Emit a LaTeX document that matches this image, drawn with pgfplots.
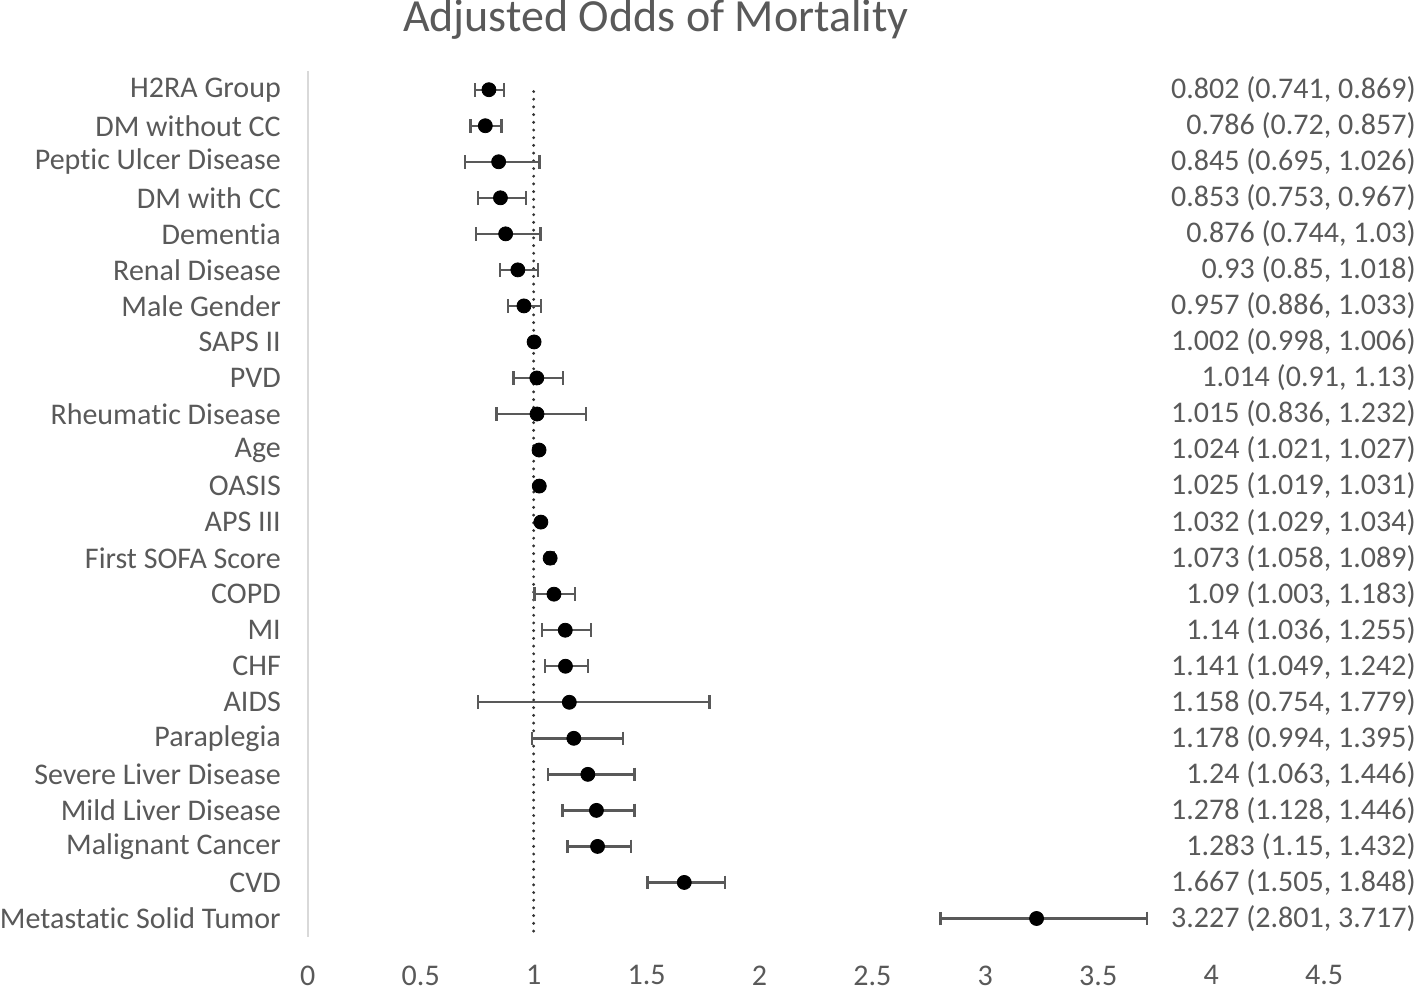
\documentclass[border=0pt]{standalone}
\usepackage{fontspec}
\setmainfont{Carlito}[Ligatures=NoCommon]
\usepackage{pgfplots}
\pgfplotsset{compat=1.18}
\usepackage{pgfplotstable}
\definecolor{txtgrey}{HTML}{595959}
\definecolor{axgrey}{HTML}{D9D9D9}
\definecolor{bargrey}{HTML}{595959}

% odds ratio with 95% CI, top to bottom
\pgfplotstableread[col sep=semicolon]{
label;or;lo;hi;ci
H2RA Group;0.802;0.741;0.869;0.802 (0.741, 0.869)
DM without CC;0.786;0.72;0.857;0.786 (0.72, 0.857)
Peptic Ulcer Disease;0.845;0.695;1.026;0.845 (0.695, 1.026)
DM with CC;0.853;0.753;0.967;0.853 (0.753, 0.967)
Dementia;0.876;0.744;1.03;0.876 (0.744, 1.03)
Renal Disease;0.93;0.85;1.018;0.93 (0.85, 1.018)
Male Gender;0.957;0.886;1.033;0.957 (0.886, 1.033)
SAPS II;1.002;0.998;1.006;1.002 (0.998, 1.006)
PVD;1.014;0.91;1.13;1.014 (0.91, 1.13)
Rheumatic Disease;1.015;0.836;1.232;1.015 (0.836, 1.232)
Age;1.024;1.021;1.027;1.024 (1.021, 1.027)
OASIS;1.025;1.019;1.031;1.025 (1.019, 1.031)
APS III;1.032;1.029;1.034;1.032 (1.029, 1.034)
First SOFA Score;1.073;1.058;1.089;1.073 (1.058, 1.089)
COPD;1.09;1.003;1.183;1.09 (1.003, 1.183)
MI;1.14;1.036;1.255;1.14 (1.036, 1.255)
CHF;1.141;1.049;1.242;1.141 (1.049, 1.242)
AIDS;1.158;0.754;1.779;1.158 (0.754, 1.779)
Paraplegia;1.178;0.994;1.395;1.178 (0.994, 1.395)
Severe Liver Disease;1.24;1.063;1.446;1.24 (1.063, 1.446)
Mild Liver Disease;1.278;1.128;1.446;1.278 (1.128, 1.446)
Malignant Cancer;1.283;1.15;1.432;1.283 (1.15, 1.432)
CVD;1.667;1.505;1.848;1.667 (1.505, 1.848)
Metastatic Solid Tumor;3.227;2.801;3.717;3.227 (2.801, 3.717)
}\ordata

\begin{document}
\begin{tikzpicture}
\begin{axis}[
    scale only axis,
    width=508pt,
    height=433pt,
    xmin=0, xmax=4.5,
    ymin=-0.52, ymax=23.52,
    y dir=reverse,
    clip=false,
    axis lines*=left,
    x axis line style={draw=none},
    y axis line style={draw=axgrey, line width=1pt},
    major tick length=0pt,
    xtick={0,0.5,...,4.5},
    ytick={0,...,23},
    yticklabels from table={\ordata}{label},
    /pgf/number format/assume math mode=true,
    tick label style={font=\fontsize{15}{18}\selectfont, text=txtgrey},
    yticklabel style={anchor=east, inner sep=0pt, xshift=-13.3pt},
    xticklabel style={anchor=north, inner sep=4pt, yshift=-10pt},
    title={Adjusted Odds of Mortality},
    title style={at={(0.3425,1)}, anchor=base, yshift=13.5pt, inner sep=0pt,
        font=\fontsize{23}{27}\selectfont, text=txtgrey},
]
% reference line at OR = 1
\addplot[color=black!80, line width=1.6pt, line cap=round,
    dash pattern=on 0pt off 3.85pt] coordinates {(1,0.05) (1,23.52)};

\addplot[only marks, mark=*, mark size=3.5pt, color=black,
    error bars/.cd, x dir=both, x explicit,
    error bar style={color=bargrey, line width=1.2pt},
    error mark options={color=bargrey, line width=1.2pt, mark size=3.4pt, rotate=90}]
    table[x=or, y expr=\coordindex,
          x error plus expr=\thisrow{hi}-\thisrow{or},
          x error minus expr=\thisrow{or}-\thisrow{lo}] {\ordata};

% CI text on the right
\addplot[draw=none, mark=none, nodes near coords, point meta=explicit symbolic,
    nodes near coords style={anchor=east, inner sep=0pt, text=txtgrey,
        font=\fontsize{15}{18}\selectfont}]
    table[x expr=4.907, y expr=\coordindex, meta=ci] {\ordata};
\end{axis}
\end{tikzpicture}
\end{document}
